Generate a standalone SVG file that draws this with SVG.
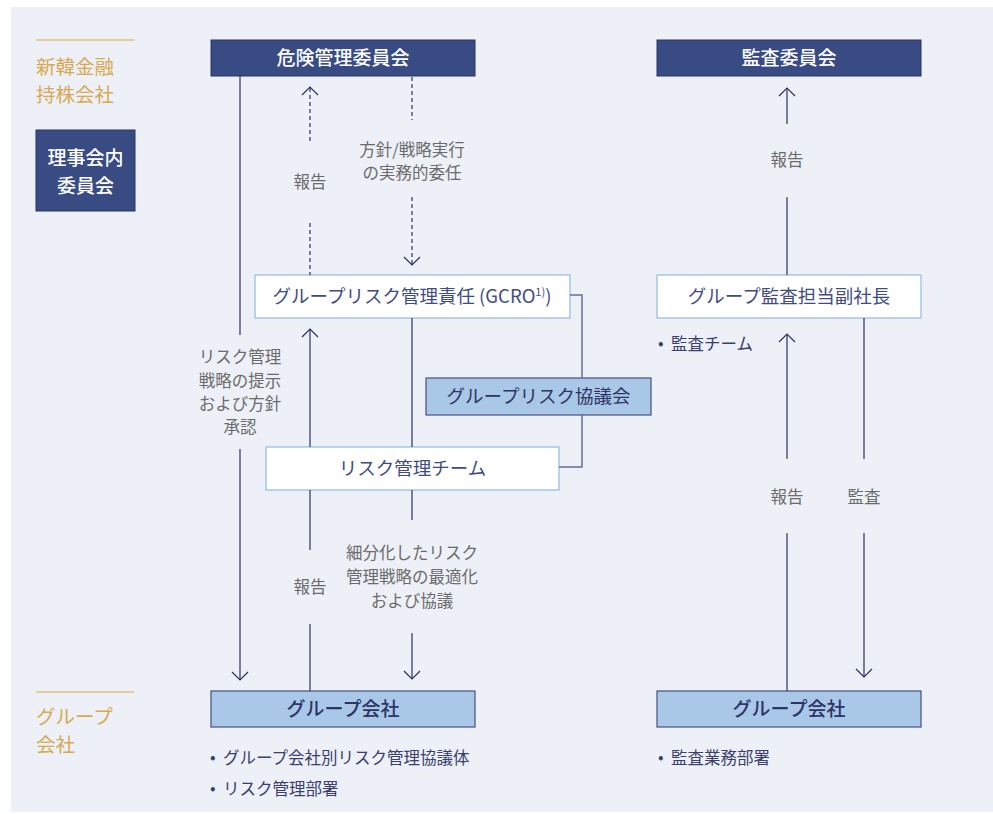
<svg xmlns="http://www.w3.org/2000/svg" width="993" height="814" viewBox="0 0 993 814">
<defs>
<style>
text{font-family:"Noto Sans CJK JP","Noto Sans",sans-serif}
.bg{fill:#edf0f6}
.gold{fill:#d7a952;font-size:19.5px}
.gline{stroke:#e3c07c;stroke-width:1.5}
.dark{fill:#384b83;stroke:#2c3466;stroke-width:1}
.wbox{fill:#ffffff;stroke:#a6c6e8;stroke-width:1.5}
.lbox{fill:#a9c7e6;stroke:#4a4f80;stroke-width:1.2}
.wt{fill:#ffffff;font-size:19px;font-weight:500;text-anchor:middle}
.nt{fill:#3f4c84;font-size:18.5px;text-anchor:middle}
.lt{fill:#2e3466;font-size:18.5px;text-anchor:middle}
.ltb{fill:#2e3466;font-size:19px;font-weight:500;text-anchor:middle}
.lbl{fill:#6b6b6b;font-size:16.5px;text-anchor:middle}
.bul{fill:#3a3f6e;font-size:16.5px}
.ln{stroke:#2c2f63;stroke-width:1.2;fill:none}
.ds{stroke:#2c2f63;stroke-width:1.2;fill:none;stroke-dasharray:4 3}
.br{stroke:#6a6e96;stroke-width:1.5;fill:none}
.ah{stroke:#2c2f63;stroke-width:1.2;fill:none}
</style>
</defs>
<rect class="bg" x="11" y="7" width="982" height="805"/>
<g id="legend-top">
<line class="gline" x1="36" y1="40" x2="134" y2="40"/>
<text class="gold" x="36" y="74">新韓金融</text>
<text class="gold" x="36" y="102">持株会社</text>
</g>
<g id="board-committee">
<rect class="dark" x="36" y="130" width="99" height="81"/>
<text class="wt" x="85.5" y="165">理事会内</text>
<text class="wt" x="85.5" y="193">委員会</text>
</g>
<g id="legend-bottom">
<line class="gline" x1="36" y1="692" x2="134" y2="692"/>
<text class="gold" x="36" y="724">グループ</text>
<text class="gold" x="36" y="752">会社</text>
</g>
<g id="risk-committee">
<rect class="dark" x="211" y="40" width="264" height="36"/>
<text class="wt" x="343" y="65">危険管理委員会</text>
</g>
<g id="audit-committee">
<rect class="dark" x="657" y="40" width="264" height="36"/>
<text class="wt" x="789" y="65">監査委員会</text>
</g>
<g id="gcro">
<rect class="wbox" x="255" y="275" width="315" height="43"/>
<text class="nt" x="412" y="303">グループリスク管理責任 (GCRO<tspan dy="-7" style="font-size:11px">1)</tspan><tspan dy="7">)</tspan></text>
</g>
<g id="audit-vp">
<rect class="wbox" x="657" y="275" width="264" height="43"/>
<text class="nt" x="789" y="303">グループ監査担当副社長</text>
</g>
<g id="risk-council">
<rect class="lbox" x="426" y="378" width="225" height="37"/>
<text class="lt" x="538.5" y="403">グループリスク協議会</text>
</g>
<g id="risk-team">
<rect class="wbox" x="266" y="447" width="293" height="43"/>
<text class="nt" x="412.5" y="475">リスク管理チーム</text>
</g>
<g id="group-co-left">
<rect class="lbox" x="211" y="691" width="264" height="36"/>
<text class="ltb" x="343" y="716">グループ会社</text>
</g>
<g id="group-co-right">
<rect class="lbox" x="657" y="691" width="264" height="36"/>
<text class="ltb" x="789" y="716">グループ会社</text>
</g>
<g id="connectors">
<line class="ln" x1="240" y1="76" x2="240" y2="335"/>
<line class="ln" x1="240" y1="449" x2="240" y2="680"/>
<polyline class="ah" points="232,672 240,680 248,672"/>
<line class="ds" x1="310" y1="88" x2="310" y2="142"/>
<line class="ds" x1="310" y1="223" x2="310" y2="275"/>
<polyline class="ah" points="302,95 310,87 318,95"/>
<line class="ds" x1="412" y1="77" x2="412" y2="120"/>
<line class="ds" x1="412" y1="197" x2="412" y2="265"/>
<polyline class="ah" points="404,257 412,265 420,257"/>
<line class="ln" x1="310" y1="329" x2="310" y2="447"/>
<polyline class="ah" points="302,337 310,329 318,337"/>
<line class="ln" x1="310" y1="490" x2="310" y2="550"/>
<line class="ln" x1="310" y1="624" x2="310" y2="691"/>
<line class="ln" x1="412" y1="318" x2="412" y2="447"/>
<line class="ln" x1="412" y1="490" x2="412" y2="520"/>
<line class="ln" x1="412" y1="633" x2="412" y2="679"/>
<polyline class="ah" points="404,671 412,679 420,671"/>
<polyline class="br" points="570,295 582,295 582,378"/>
<polyline class="br" points="582,415 582,467 559,467"/>
<line class="ln" x1="787" y1="88" x2="787" y2="124"/>
<polyline class="ah" points="779,96 787,88 795,96"/>
<line class="ln" x1="787" y1="197" x2="787" y2="275"/>
<line class="ln" x1="787" y1="334" x2="787" y2="459"/>
<polyline class="ah" points="779,342 787,334 795,342"/>
<line class="ln" x1="787" y1="533" x2="787" y2="691"/>
<line class="ln" x1="864" y1="318" x2="864" y2="459"/>
<line class="ln" x1="864" y1="533" x2="864" y2="677"/>
<polyline class="ah" points="856,669 864,677 872,669"/>
</g>
<g id="labels">
<text class="lbl" x="240" y="363">リスク管理</text>
<text class="lbl" x="240" y="387">戦略の提示</text>
<text class="lbl" x="240" y="410">および方針</text>
<text class="lbl" x="240" y="433">承認</text>
<text class="lbl" x="310" y="188">報告</text>
<text class="lbl" x="412" y="156">方針/戦略実行</text>
<text class="lbl" x="412" y="179">の実務的委任</text>
<text class="lbl" x="310" y="593">報告</text>
<text class="lbl" x="412" y="559">細分化したリスク</text>
<text class="lbl" x="412" y="583">管理戦略の最適化</text>
<text class="lbl" x="412" y="607">および協議</text>
<text class="lbl" x="787" y="166">報告</text>
<text class="lbl" x="787" y="503">報告</text>
<text class="lbl" x="864" y="503">監査</text>
</g>
<g id="bullets">
<text class="bul" x="658" y="349">•</text><text class="bul" x="671" y="350">監査チーム</text>
<text class="bul" x="210" y="763">•</text><text class="bul" x="223" y="764">グループ会社別リスク管理協議体</text>
<text class="bul" x="210" y="794">•</text><text class="bul" x="223" y="795">リスク管理部署</text>
<text class="bul" x="658" y="763">•</text><text class="bul" x="671" y="764">監査業務部署</text>
</g>
</svg>
